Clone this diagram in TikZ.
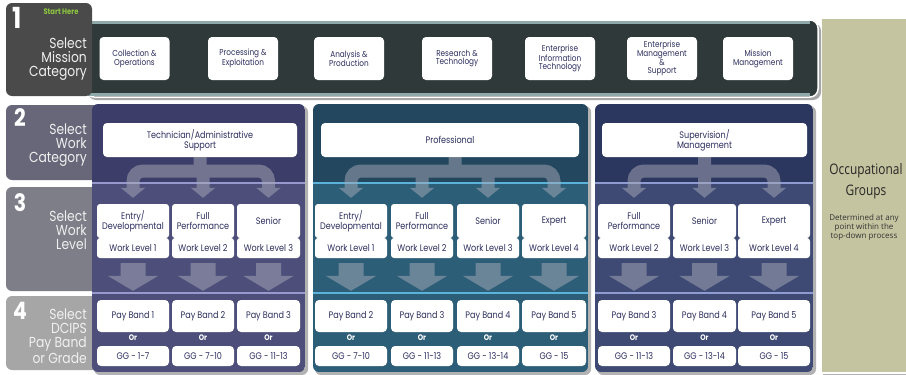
\documentclass[tikz,border=0pt]{standalone}
\usepackage{fontspec}
\setmainfont{Poppins}[FakeStretch=0.85]
\newfontfamily\ogfont{Open Sans}[FakeStretch=0.82]
\newfontfamily\ognote{Open Sans}
\usetikzlibrary{arrows.meta}
\definecolor{tabone}{HTML}{4A4A4A}
\definecolor{tabtwo}{HTML}{676779}
\definecolor{tabthree}{HTML}{7E7E88}
\definecolor{tabfour}{HTML}{A6A6A6}
\definecolor{bandc}{HTML}{2F3939}
\definecolor{bandedge}{HTML}{8FA9AA}
\definecolor{pana}{HTML}{3C3E69}
\definecolor{panalt}{HTML}{4D4F7A}
\definecolor{panaline}{HTML}{9799CC}
\definecolor{panb}{HTML}{22475F}
\definecolor{panbalt}{HTML}{2D5E78}
\definecolor{panbline}{HTML}{5BB3DA}
\definecolor{panc}{HTML}{2C375F}
\definecolor{pancalt}{HTML}{3E4A74}
\definecolor{pancline}{HTML}{8D9BD0}
\definecolor{tanc}{HTML}{C5C4A0}
\definecolor{navytxt}{HTML}{2D2F5E}
\definecolor{arrowc}{HTML}{A8AAB8}
\definecolor{starthere}{HTML}{8DC63F}
\begin{document}
\begin{tikzpicture}[x=1pt, y=-1pt,
		tabnum/.style={text=white, inner sep=0pt, font=\fontsize{24}{24}\selectfont\bfseries},
		tabtxt/.style={text=white!94!black, anchor=north east, align=right, inner sep=0pt, font=\fontsize{14.5}{14}\selectfont},
		wbox/.style={fill=white, rounded corners=4pt, align=center, text=navytxt, inner sep=1pt, font=\fontsize{9.5}{10}\selectfont},
		mission/.style={wbox, minimum width=70pt, minimum height=43pt, font=\fontsize{8.6}{8.8}\selectfont},
		catbox/.style={wbox, minimum height=34pt},
		lvltop/.style={wbox, rounded corners=3pt, minimum height=34pt},
		lvlbot/.style={wbox, rounded corners=3pt, minimum height=20pt},
		paybox/.style={wbox, minimum height=32pt},
		ggbox/.style={wbox, minimum height=20pt},
		ortxt/.style={text=white, inner sep=0pt, font=\fontsize{8}{8}\selectfont\bfseries},
		brk/.style={draw=arrowc, line width=13pt},
		blk/.style={draw=arrowc, line width=25pt}]
	\useasboundingbox (0,0) rectangle (906,375);
	\fill[white] (0,0) rectangle (906,375);

		% Grupos ocupacionales
			\fill[black!30] (823,21) rectangle (906,376);
			\filldraw[fill=tanc, draw=white, line width=1.5pt] (821,18) rectangle (910,373);
			\node[font=\ogfont\fontsize{14.5}{21}\selectfont, align=center, text=black!85] (occ) at (866,181) {Occupational\\Groups};
			\node[font=\ognote\fontsize{8}{9}\selectfont, align=center, text=black!80] (det) at (864,227) {Determined at any\\point within the\\top-down process};

		% Paso 1
			\fill[black!35, rounded corners=8pt] (88,23) rectangle (821,100);
			\filldraw[fill=bandc, draw=white, line width=1.5pt, rounded corners=8pt] (86,20) rectangle (818,97);
			\draw[bandedge, line width=2.5pt] (88,22.5) -- (810,22.5) (88,94.5) -- (810,94.5);
			\fill[tabone, rounded corners=6pt] (6,3) rectangle (92,96);
			\node[tabnum, font=\fontsize{29}{29}\selectfont\bfseries] (n1) at (17,18) {1};
			\node[text=starthere, inner sep=0pt, font=\fontsize{8}{8}\selectfont\bfseries] (start) at (61,12) {Start Here};
			\node[tabtxt] (selone) at (87,38) {Select\\Mission\\Category};

			\node[mission] (coll) at (134.5,58.5) {Collection \&\\Operations};
			\node[mission] (proc) at (243,58.5) {Processing \&\\Exploitation};
			\node[mission] (anal) at (349,58.5) {Analysis \&\\Production};
			\node[mission] (res) at (457,58.5) {Research \&\\Technology};
			\node[mission] (eit) at (560,58.5) {Enterprise\\Information\\Technology};
			\node[mission] (ems) at (662,58.5) {Enterprise\\Management\\\&\\Support};
			\node[mission] (mm) at (758,58.5) {Mission\\Management};

		% Pasos 2, 3 y 4
			\fill[tabtwo, rounded corners=6pt] (6,105) rectangle (100,180);
			\fill[tabthree, rounded corners=6pt] (6,187) rectangle (100,291);
			\fill[tabfour, rounded corners=6pt] (6,296) rectangle (100,370);
			\node[tabnum] (n2) at (20,118) {2};
			\node[tabnum] (n3) at (20,203) {3};
			\node[tabnum] (n4) at (20,311) {4};
			\node[tabtxt] (seltwo) at (87,124) {Select\\Work\\Category};
			\node[tabtxt] (selthree) at (87,211) {Select\\Work\\Level};
			\node[tabtxt] (selfour) at (87,309) {Select\\DCIPS\\Pay Band\\or Grade};

		% Paneles
			\fill[black!30, rounded corners=6pt] (94,106) rectangle (308,375);
			\fill[black!30, rounded corners=6pt] (315,106) rectangle (591,375);
			\fill[black!30, rounded corners=6pt] (597,106) rectangle (816,375);
			\begin{scope}
				\clip[rounded corners=6pt] (92,104) rectangle (305,372);
				\fill[pana] (92,104) rectangle (305,183);
				\fill[panalt] (92,183) rectangle (305,372);
				\draw[panaline, line width=2.5pt] (92,183) -- (305,183) (92,293) -- (305,293);
			\end{scope}
			\begin{scope}
				\clip[rounded corners=6pt] (313,104) rectangle (588,372);
				\fill[panb] (313,104) rectangle (588,183);
				\fill[panbalt] (313,183) rectangle (588,372);
				\draw[panbline, line width=2.5pt] (313,183) -- (588,183) (313,293) -- (588,293);
			\end{scope}
			\begin{scope}
				\clip[rounded corners=6pt] (595,104) rectangle (813,372);
				\fill[panc] (595,104) rectangle (813,183);
				\fill[pancalt] (595,183) rectangle (813,372);
				\draw[pancline, line width=2.5pt] (595,183) -- (813,183) (595,293) -- (813,293);
			\end{scope}

		% Categorias
			\node[catbox, minimum width=194pt] (tech) at (200,140) {Technician/Administrative\\Support};
			\node[catbox, minimum width=258pt] (prof) at (450,140) {Professional};
			\node[catbox, minimum width=205pt] (sup) at (704.5,140) {Supervision/\\Management};

		% Niveles
			\node[lvltop, minimum width=72pt] (a1) at (133,221) {Entry/\\Developmental};
			\node[lvltop, minimum width=62pt] (a2) at (203,221) {Full\\Performance};
			\node[lvltop, minimum width=63pt] (a3) at (268.5,221) {Senior};
			\node[lvlbot, minimum width=72pt] (a1w) at (133,248) {Work Level 1};
			\node[lvlbot, minimum width=62pt] (a2w) at (203,248) {Work Level 2};
			\node[lvlbot, minimum width=63pt] (a3w) at (268.5,248) {Work Level 3};

			\node[lvltop, minimum width=72pt] (b1) at (351,221) {Entry/\\Developmental};
			\node[lvltop, minimum width=62pt] (b2) at (422,221) {Full\\Performance};
			\node[lvltop, minimum width=62pt] (b3) at (488,221) {Senior};
			\node[lvltop, minimum width=64pt] (b4) at (554,221) {Expert};
			\node[lvlbot, minimum width=72pt] (b1w) at (351,248) {Work Level 1};
			\node[lvlbot, minimum width=62pt] (b2w) at (422,248) {Work Level 2};
			\node[lvlbot, minimum width=62pt] (b3w) at (488,248) {Work Level 3};
			\node[lvlbot, minimum width=64pt] (b4w) at (554,248) {Work Level 4};

			\node[lvltop, minimum width=72pt] (c1) at (634,221) {Full\\Performance};
			\node[lvltop, minimum width=63pt] (c2) at (704.5,221) {Senior};
			\node[lvltop, minimum width=72pt] (c3) at (774,221) {Expert};
			\node[lvlbot, minimum width=72pt] (c1w) at (634,248) {Work Level 2};
			\node[lvlbot, minimum width=63pt] (c2w) at (704.5,248) {Work Level 3};
			\node[lvlbot, minimum width=72pt] (c3w) at (774,248) {Work Level 4};

		% Bandas y grados
			\node[paybox, minimum width=72pt] (pa1) at (133,316) {Pay Band 1};
			\node[paybox, minimum width=62pt] (pa2) at (203,316) {Pay Band 2};
			\node[paybox, minimum width=63pt] (pa3) at (268.5,316) {Pay Band 3};
			\node[ortxt] (oa1) at (133,338) {Or};
			\node[ortxt] (oa2) at (203,338) {Or};
			\node[ortxt] (oa3) at (268.5,338) {Or};
			\node[ggbox, minimum width=72pt] (ga1) at (133,356) {GG - 1-7};
			\node[ggbox, minimum width=62pt] (ga2) at (203,356) {GG - 7-10};
			\node[ggbox, minimum width=63pt] (ga3) at (268.5,356) {GG - 11-13};

			\node[paybox, minimum width=72pt] (pb1) at (351,316) {Pay Band 2};
			\node[paybox, minimum width=62pt] (pb2) at (422,316) {Pay Band 3};
			\node[paybox, minimum width=62pt] (pb3) at (488,316) {Pay Band 4};
			\node[paybox, minimum width=64pt] (pb4) at (554,316) {Pay Band 5};
			\node[ortxt] (ob1) at (351,338) {Or};
			\node[ortxt] (ob2) at (422,338) {Or};
			\node[ortxt] (ob3) at (488,338) {Or};
			\node[ortxt] (ob4) at (554,338) {Or};
			\node[ggbox, minimum width=72pt] (gb1) at (351,356) {GG - 7-10};
			\node[ggbox, minimum width=62pt] (gb2) at (422,356) {GG - 11-13};
			\node[ggbox, minimum width=62pt] (gb3) at (488,356) {GG - 13-14};
			\node[ggbox, minimum width=64pt] (gb4) at (554,356) {GG - 15};

			\node[paybox, minimum width=72pt] (pc1) at (634,316) {Pay Band 3};
			\node[paybox, minimum width=63pt] (pc2) at (704.5,316) {Pay Band 4};
			\node[paybox, minimum width=72pt] (pc3) at (774,316) {Pay Band 5};
			\node[ortxt] (oc1) at (634,338) {Or};
			\node[ortxt] (oc2) at (704.5,338) {Or};
			\node[ortxt] (oc3) at (774,338) {Or};
			\node[ggbox, minimum width=72pt] (gc1) at (634,356) {GG - 11-13};
			\node[ggbox, minimum width=63pt] (gc2) at (704.5,356) {GG - 13-14};
			\node[ggbox, minimum width=72pt] (gc3) at (774,356) {GG - 15};

		% Flechas
		\begin{scope}[transparency group, opacity=0.5]
			\draw[brk] (tech.south) -- (tech.south |- 0,171);
			\draw[brk, rounded corners=10pt, {Triangle[width=24pt,length=10pt]}-{Triangle[width=24pt,length=10pt]}] ([yshift=6pt]a1.north) |- (tech.south |- 0,171) -| ([yshift=6pt]a3.north);
			\draw[brk, -{Triangle[width=24pt,length=10pt]}] (a2.north |- 0,171) -- ([yshift=6pt]a2.north);

			\draw[brk] (prof.south) ++(5,0) -- ++(0,14);
			\draw[brk, rounded corners=10pt, {Triangle[width=24pt,length=10pt]}-{Triangle[width=24pt,length=10pt]}] ([yshift=6pt]b1.north) |- (prof.south |- 0,171) -| ([yshift=6pt]b4.north);
			\draw[brk, -{Triangle[width=24pt,length=10pt]}] (b2.north |- 0,171) -- ([yshift=6pt]b2.north);
			\draw[brk, -{Triangle[width=24pt,length=10pt]}] (b3.north |- 0,171) -- ([yshift=6pt]b3.north);

			\draw[brk] (sup.south) -- (sup.south |- 0,171);
			\draw[brk, rounded corners=10pt, {Triangle[width=24pt,length=10pt]}-{Triangle[width=24pt,length=10pt]}] ([yshift=6pt]c1.north) |- (sup.south |- 0,171) -| ([yshift=6pt]c3.north);
			\draw[brk, -{Triangle[width=24pt,length=10pt]}] (c2.north |- 0,171) -- ([yshift=6pt]c2.north);

			\draw[blk, -{Triangle[width=50pt,length=15pt]}] ([yshift=-5pt]a1w.south) -- ([yshift=9pt]pa1.north);
			\draw[blk, -{Triangle[width=50pt,length=15pt]}] ([yshift=-5pt]a2w.south) -- ([yshift=9pt]pa2.north);
			\draw[blk, -{Triangle[width=50pt,length=15pt]}] ([yshift=-5pt]a3w.south) -- ([yshift=9pt]pa3.north);
			\draw[blk, -{Triangle[width=50pt,length=15pt]}] ([yshift=-5pt]b1w.south) -- ([yshift=9pt]pb1.north);
			\draw[blk, -{Triangle[width=50pt,length=15pt]}] ([yshift=-5pt]b2w.south) -- ([yshift=9pt]pb2.north);
			\draw[blk, -{Triangle[width=50pt,length=15pt]}] ([yshift=-5pt]b3w.south) -- ([yshift=9pt]pb3.north);
			\draw[blk, -{Triangle[width=50pt,length=15pt]}] ([yshift=-5pt]b4w.south) -- ([yshift=9pt]pb4.north);
			\draw[blk, -{Triangle[width=50pt,length=15pt]}] ([yshift=-5pt]c1w.south) -- ([yshift=9pt]pc1.north);
			\draw[blk, -{Triangle[width=50pt,length=15pt]}] ([yshift=-5pt]c2w.south) -- ([yshift=9pt]pc2.north);
			\draw[blk, -{Triangle[width=50pt,length=15pt]}] ([yshift=-5pt]c3w.south) -- ([yshift=9pt]pc3.north);
		\end{scope}
\end{tikzpicture}
\end{document}
